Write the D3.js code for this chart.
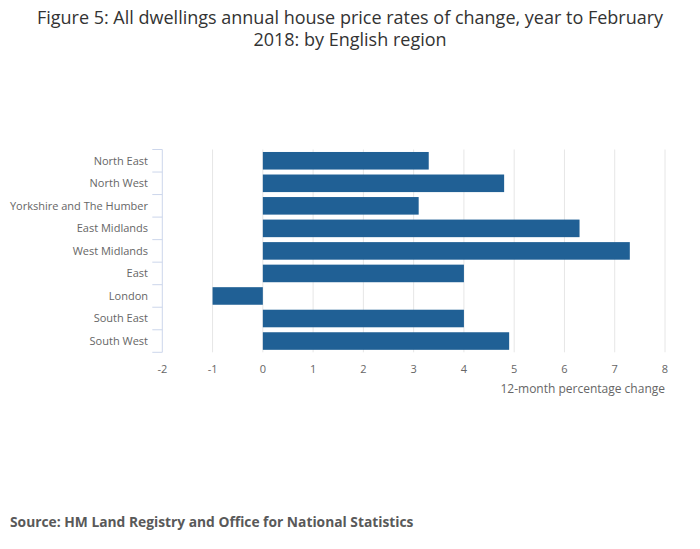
<!DOCTYPE html>
<html>
<head>
<meta charset="utf-8">
<script src="https://cdn.jsdelivr.net/npm/d3@7"></script>
<style>
  body { margin: 0; background: #fff; }
  text { font-family: "Open Sans", sans-serif; }
</style>
</head>
<body>
<div class="chart"></div>
<script>
const regions = [
    "North East", "North West", "Yorkshire and The Humber", "East Midlands",
    "West Midlands", "East", "London", "South East", "South West"
];
const changes = [3.3, 4.8, 3.1, 6.3, 7.3, 4.0, -1.0, 4.0, 4.9];
const xTicks = [-2, -1, 0, 1, 2, 3, 4, 5, 6, 7, 8];

const width = 700;
const height = 549;
const plotLeft = 162.3;
const plotRight = 665;
const plotTop = 149.5;
const plotBottom = 352.3;

const svg = d3.select(".chart")
        .append("svg")
        .attr("width", width)
        .attr("height", height);

const x = d3.scaleLinear().domain([-2, 8]).range([plotLeft, plotRight]);
const y = d3.scaleBand().domain(regions).range([plotTop, plotBottom]).paddingInner(0.22).paddingOuter(0.11);

// title
svg.append("text")
        .attr("x", 350).attr("y", 24)
        .attr("text-anchor", "middle")
        .attr("font-size", 18).attr("fill", "#333")
        .selectAll("tspan")
        .data(["Figure 5: All dwellings annual house price rates of change, year to February", "2018: by English region"])
        .enter().append("tspan")
        .attr("x", 350)
        .attr("dy", (_, i) => i ? 22 : 0)
        .text(d => d);

// vertical grid
svg.append("g")
        .selectAll("line")
        .data(xTicks.filter(d => d !== -2)).enter()
        .append("line")
        .attr("x1", d => x(d)).attr("x2", d => x(d))
        .attr("y1", plotTop).attr("y2", plotBottom)
        .attr("stroke", "#e6e6e6");

// x tick labels
svg.append("g")
        .selectAll("text")
        .data(xTicks).enter()
        .append("text")
        .attr("x", d => x(d))
        .attr("y", 372.5)
        .attr("text-anchor", "middle")
        .attr("font-size", 11).attr("fill", "#666")
        .text(d => d);

svg.append("text")
        .attr("x", 665).attr("y", 393)
        .attr("text-anchor", "end")
        .attr("font-size", 12).attr("fill", "#666")
        .text("12-month percentage change");

// category axis
const step = (plotBottom - plotTop) / regions.length;
svg.append("line")
        .attr("x1", plotLeft).attr("x2", plotLeft)
        .attr("y1", plotTop).attr("y2", plotBottom)
        .attr("stroke", "#ccd6eb");
svg.append("g")
        .selectAll("line")
        .data(d3.range(regions.length + 1)).enter()
        .append("line")
        .attr("x1", plotLeft - 10).attr("x2", plotLeft)
        .attr("y1", i => plotTop + i * step).attr("y2", i => plotTop + i * step)
        .attr("stroke", "#ccd6eb");
svg.append("g")
        .selectAll("text")
        .data(regions).enter()
        .append("text")
        .attr("x", 148)
        .attr("y", d => y(d) + y.bandwidth() / 2)
        .attr("dy", "0.35em")
        .attr("text-anchor", "end")
        .attr("font-size", 11).attr("fill", "#666")
        .text(d => d);

// bars
svg.append("g")
        .selectAll("rect")
        .data(changes).enter()
        .append("rect")
        .attr("x", d => x(Math.min(0, d)))
        .attr("y", (_, i) => y(regions[i]))
        .attr("width", d => Math.abs(x(d) - x(0)))
        .attr("height", y.bandwidth())
        .attr("fill", "#206095");

svg.append("text")
        .attr("x", 10).attr("y", 527)
        .attr("font-size", 13.8).attr("font-weight", "bold").attr("fill", "#595959")
        .text("Source: HM Land Registry and Office for National Statistics");
</script>
</body>
</html>
